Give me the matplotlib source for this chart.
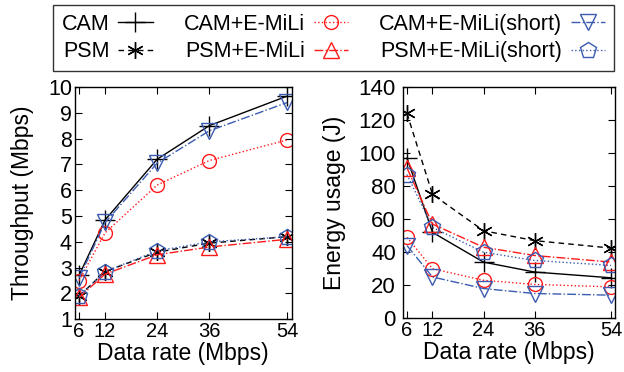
import matplotlib.pyplot as plt
import numpy as np

plt.rcParams['font.family'] = ['Liberation Sans', 'DejaVu Sans']

rates = [6, 12, 24, 36, 54]
labels = ['CAM', 'PSM', 'CAM+E-MiLi', 'PSM+E-MiLi',
          'CAM+E-MiLi(short)', 'PSM+E-MiLi(short)']

# throughput (Mbps)
thr_cam = [2.7, 4.85, 7.2, 8.5, 9.65]
thr_psm = [1.9, 2.85, 3.6, 3.95, 4.2]
thr_cam_em = [2.5, 4.35, 6.2, 7.15, 7.95]
thr_psm_em = [1.85, 2.75, 3.5, 3.8, 4.1]
thr_cam_short = [2.6, 4.75, 7.05, 8.3, 9.4]
thr_psm_short = [1.9, 2.85, 3.65, 4.0, 4.2]

# energy usage (J)
en_cam = [97, 52, 34, 28, 24.5]
en_psm = [124, 75, 53, 47, 42.5]
en_cam_em = [49, 30, 23, 20.5, 19]
en_psm_em = [91, 57, 43, 38, 34]
en_cam_short = [44, 25, 18, 15, 14]
en_psm_short = [87, 55, 40, 35, 32]

red = '#ff1a1a'
blue = '#3a5bb0'
styles = [
    dict(color='black', ls='-', marker='+', ms=14, mew=1.0),
    dict(color='black', ls=(0, (4, 3)), marker=(6, 2, 0), ms=12, mew=1.0),
    dict(color=red, ls=':', marker='o', ms=10, mfc='none', mew=1.0),
    dict(color=red, ls='-.', marker='^', ms=11, mfc='none', mew=1.0),
    dict(color=blue, ls='-.', marker='v', ms=12, mfc='none', mew=1.0),
    dict(color=blue, ls=':', marker='p', ms=12, mfc='none', mew=1.0),
]

fig = plt.figure(figsize=(6.24, 3.72), dpi=100)
ax1 = fig.add_axes([0.1197, 0.1417, 0.3478, 0.6245])
ax2 = fig.add_axes([0.6454, 0.1444, 0.3407, 0.6218])

thr = [thr_cam, thr_psm, thr_cam_em, thr_psm_em, thr_cam_short, thr_psm_short]
en = [en_cam, en_psm, en_cam_em, en_psm_em, en_cam_short, en_psm_short]

handles = []
for ys, st, lab in zip(thr, styles, labels):
    h, = ax1.plot(rates, ys, lw=1.0, label=lab, **st)
    handles.append(h)
for ys, st in zip(en, styles):
    ax2.plot(rates, ys, lw=1.0, **st)

for ax in (ax1, ax2):
    ax.set_xlim(5, 55)
    ax.set_xticks(rates)
    ax.tick_params(direction='in', top=True, right=True, length=5,
                   labelsize=15.5, pad=2)
    ax.tick_params(axis='x', labelsize=14.5)
    ax.set_xlabel('Data rate (Mbps)', fontsize=16.5, labelpad=1)
    for s in ax.spines.values():
        s.set_linewidth(1.0)
ax2.tick_params(axis='y', labelsize=16, pad=5)

ax1.set_ylim(1, 10)
ax1.set_yticks(np.arange(1, 11))
ax1.set_ylabel('Throughput (Mbps)', fontsize=16.5, labelpad=10)
ax2.set_ylim(0, 140)
ax2.set_yticks(np.arange(0, 141, 20))
ax2.set_ylabel('Energy usage (J)', fontsize=16.5, labelpad=9)

leg = fig.legend(handles=handles, ncol=3, markerfirst=False,
                 loc='upper left', bbox_to_anchor=(0.0854, 0.9866, 0.8986, 0.0),
                 mode='expand', fontsize=15.5, frameon=True, fancybox=False,
                 edgecolor='black', handlelength=1.6, handletextpad=0.4,
                 columnspacing=0.8, borderpad=0.4, labelspacing=0.3,
                 borderaxespad=0)
leg.get_frame().set_linewidth(1.0)

fig.savefig('out.png', dpi=100)
